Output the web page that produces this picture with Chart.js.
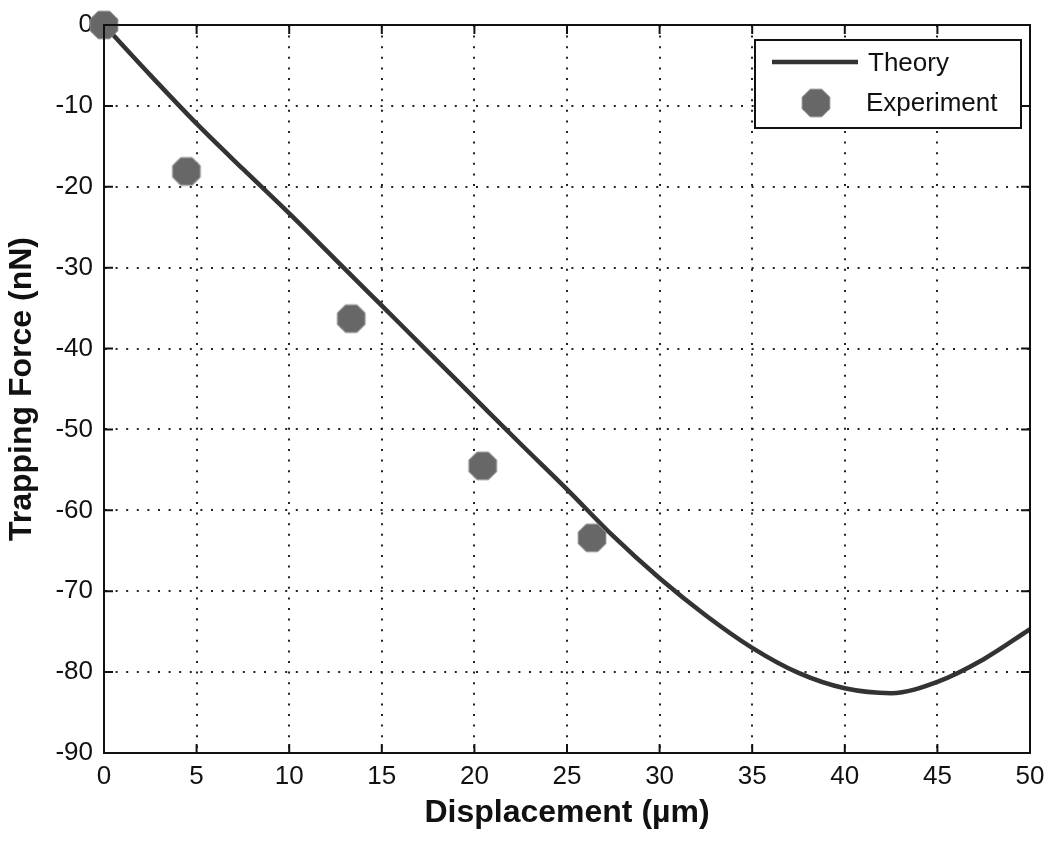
<!DOCTYPE html>
<html>
<head>
<meta charset="utf-8">
<script src="https://cdn.jsdelivr.net/npm/chart.js@4.4.0/dist/chart.umd.min.js"></script>
<style>
  html, body { margin: 0; padding: 0; background: #fff; }
</style>
</head>
<body>
<canvas id="chart" width="1050" height="846"></canvas>
<script>
// theory curve
const theoryX = [0, 2.5, 5, 7.5, 10, 12.5, 15, 17.5, 20, 22.5, 25, 27.5, 30, 32.5, 35, 37.5, 40, 42.5, 45, 47.5, 50];
const theoryY = [0, -6.2, -12.2, -17.8, -23.3, -29.0, -34.7, -40.4, -46.1, -51.8, -57.4, -63.2, -68.4, -73.0, -77.0, -80.1, -82.0, -82.6, -81.2, -78.4, -74.7];

// experiment points
const expX = [0, 4.45, 13.35, 20.45, 26.35];
const expY = [0, -18.1, -36.3, -54.5, -63.4];

const xTicks = [0, 5, 10, 15, 20, 25, 30, 35, 40, 45, 50];
const yTicks = [0, -10, -20, -30, -40, -50, -60, -70, -80, -90];

const FONT = "'Liberation Sans', Arial, sans-serif";

// octagon marker like matlab's
function makeOctagon(size) {
  const c = document.createElement('canvas');
  c.width = size; c.height = size;
  const g = c.getContext('2d');
  const r = size / 2 - 1;
  g.beginPath();
  for (let i = 0; i < 8; i++) {
    const a = Math.PI / 8 + i * Math.PI / 4;
    const px = size / 2 + r * Math.cos(a);
    const py = size / 2 + r * Math.sin(a);
    if (i === 0) g.moveTo(px, py); else g.lineTo(px, py);
  }
  g.closePath();
  g.fillStyle = '#676767';
  g.fill();
  g.strokeStyle = '#8c8c8c';
  g.lineWidth = 1;
  g.stroke();
  return c;
}
const octagon = makeOctagon(32);

const framePlugin = {
  id: 'frame',
  afterDraw(chart) {
    const ctx = chart.ctx;
    const a = chart.chartArea;
    const xs = chart.scales.x, ys = chart.scales.y;
    const tl = 9;
    ctx.save();
    ctx.strokeStyle = '#111';
    ctx.lineWidth = 2;
    ctx.strokeRect(a.left, a.top, a.right - a.left, a.bottom - a.top);
    ctx.beginPath();
    xTicks.forEach(v => {
      const px = xs.getPixelForValue(v);
      ctx.moveTo(px, a.bottom); ctx.lineTo(px, a.bottom - tl);
      ctx.moveTo(px, a.top); ctx.lineTo(px, a.top + tl);
    });
    yTicks.forEach(v => {
      const py = ys.getPixelForValue(v);
      ctx.moveTo(a.left, py); ctx.lineTo(a.left + tl, py);
      ctx.moveTo(a.right, py); ctx.lineTo(a.right - tl, py);
    });
    ctx.stroke();

    // legend box
    const bx = a.right - 275, by = a.top + 15, bw = 266, bh = 88;
    ctx.fillStyle = '#fff';
    ctx.fillRect(bx, by, bw, bh);
    ctx.strokeRect(bx, by, bw, bh);
    ctx.strokeStyle = '#333';
    ctx.lineWidth = 4.5;
    ctx.beginPath();
    ctx.moveTo(bx + 17, by + 22); ctx.lineTo(bx + 103, by + 22);
    ctx.stroke();
    ctx.drawImage(octagon, bx + 61 - 16, by + 63 - 16);
    ctx.fillStyle = '#111';
    ctx.font = '26px ' + FONT;
    ctx.textBaseline = 'middle';
    ctx.textAlign = 'left';
    ctx.fillText('Theory', bx + 113, by + 24);
    ctx.fillText('Experiment', bx + 111, by + 64);
    ctx.restore();
  }
};

new Chart(document.getElementById('chart'), {
  type: 'scatter',
  data: {
    datasets: [
      {
        label: 'Experiment',
        data: expX.map((x, i) => ({ x: x, y: expY[i] })),
        pointStyle: octagon,
        pointRadius: 16,
        clip: false,
        order: 0
      },
      {
        type: 'line',
        label: 'Theory',
        data: theoryX.map((x, i) => ({ x: x, y: theoryY[i] })),
        borderColor: '#333',
        borderWidth: 4.5,
        pointRadius: 0,
        fill: false,
        cubicInterpolationMode: 'monotone',
        order: 1
      }
    ]
  },
  options: {
    responsive: false,
    animation: false,
    devicePixelRatio: 1,
    layout: { padding: { top: 25, right: 20, left: 0, bottom: 0 } },
    plugins: { legend: { display: false }, tooltip: { enabled: false } },
    scales: {
      x: {
        type: 'linear',
        min: 0, max: 50,
        afterBuildTicks: s => { s.ticks = xTicks.map(v => ({ value: v })); },
        afterFit: s => { s.height = 93; s.paddingLeft = 0; s.paddingRight = 0; },
        ticks: { color: '#111', font: { family: FONT, size: 26 }, padding: 8, maxRotation: 0 },
        grid: { color: '#222', lineWidth: 2, drawTicks: false },
        border: { display: true, color: '#111', width: 2, dash: [2, 8.6] },
        title: { display: true, text: 'Displacement (\u00b5m)', color: '#111',
                 font: { family: FONT, size: 32, weight: 'bold' }, padding: { top: 0, bottom: 14 } }
      },
      y: {
        type: 'linear',
        min: -90, max: 0,
        afterBuildTicks: s => { s.ticks = yTicks.map(v => ({ value: v })); },
        afterFit: s => { s.width = 104; s.paddingTop = 0; s.paddingBottom = 0; },
        ticks: { color: '#111', font: { family: FONT, size: 26 }, padding: 11 },
        grid: { color: '#222', lineWidth: 2, drawTicks: false },
        border: { display: true, color: '#111', width: 2, dash: [2, 8.6] },
        title: { display: true, text: 'Trapping Force (nN)', color: '#111',
                 font: { family: FONT, size: 32, weight: 'bold' }, padding: { top: 3, bottom: 0 } }
      }
    }
  },
  plugins: [framePlugin]
});
</script>
</body>
</html>
